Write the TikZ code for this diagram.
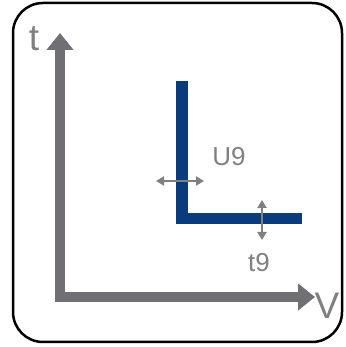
\documentclass[tikz,border=0pt]{standalone}
\usepackage{fontspec}
\setmainfont{Liberation Sans}
\usetikzlibrary{arrows.meta}
\definecolor{axisgray}{RGB}{112,112,116}
\definecolor{labelgray}{RGB}{128,128,128}
\definecolor{barblue}{RGB}{10,60,124}
\begin{document}
\begin{tikzpicture}[x=1pt, y=1pt, line join=miter]
    \tikzset{
      axis/.style={line width=10pt, axisgray, {Triangle[width=26pt,length=17pt]}-{Triangle[width=26pt,length=17pt]}},
      tick/.style={line width=2pt, labelgray, {Triangle[width=9pt,length=8pt]}-{Triangle[width=9pt,length=8pt]}},
      lbl/.style={text=labelgray, inner sep=0pt, font=\fontsize{26}{26}\selectfont}
    }
    \useasboundingbox (0,0) rectangle (345,347);
    
    % Rahmen
    \draw[line width=2.5pt, rounded corners=30pt] (13,5) rectangle (342,344);
    
    % Sumbu t dan V
    \coordinate (O) at (60,50);
    \coordinate (T) at (60,314);
    \coordinate (V) at (315,50);
    \draw[axis] (T) -- (O) -- (V);
    \node[lbl, font=\fontsize{37}{37}\selectfont] (tlabel) at (34,308) {t};
    \node[lbl, font=\fontsize{37}{37}\selectfont] (vlabel) at (327,41) {V};
    
    % Profil L
    \coordinate (Ltop) at (182,266);
    \coordinate (Lcorner) at (182,128.5);
    \coordinate (Lend) at (302,128.5);
    \draw[line width=11.5pt, barblue] (Ltop) -- (Lcorner) -- (Lend);
    
    % Tebal U9 dan t9
    \coordinate (ua) at (156,166);
    \coordinate (ub) at (204,166);
    \draw[tick] (ua) -- (ub);
    \coordinate (ta) at (262,147);
    \coordinate (tb) at (262,107);
    \draw[tick] (ta) -- (tb);
    \node[lbl] (U9) at (229,190) {U9};
    \node[lbl] (t9) at (259,84) {t9};
  \end{tikzpicture}
\end{document}
